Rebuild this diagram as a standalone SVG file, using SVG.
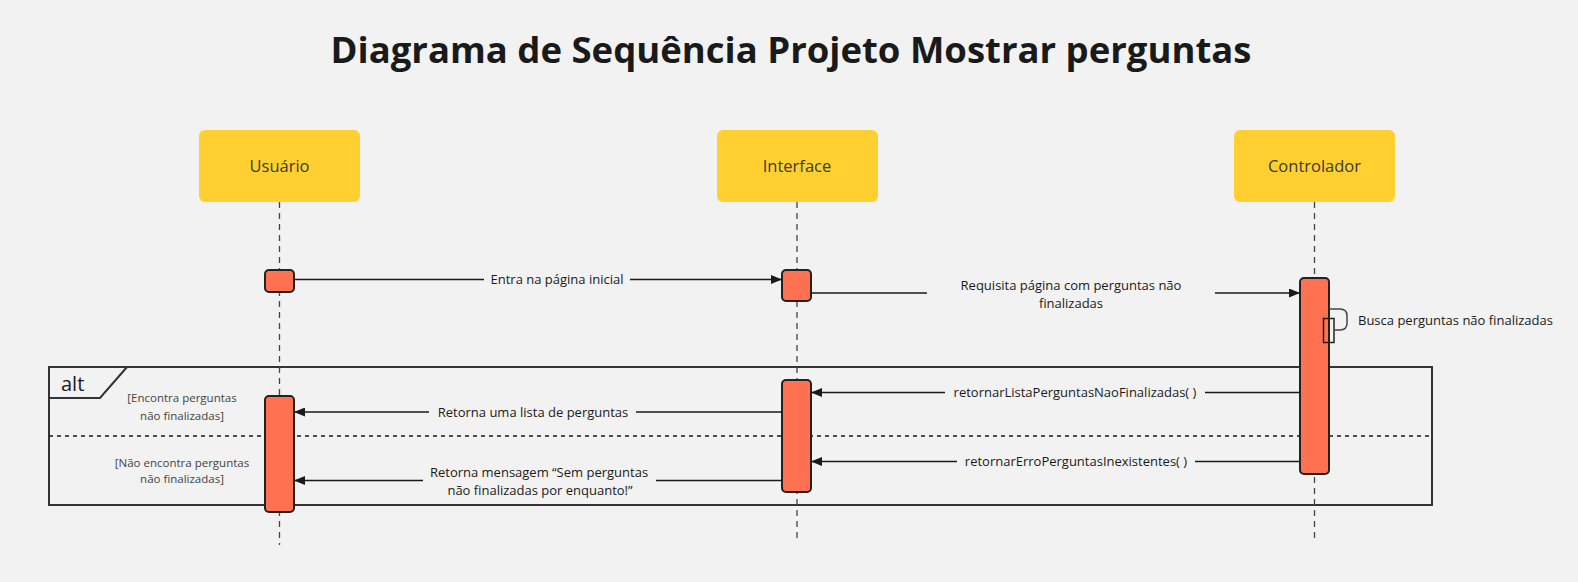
<svg xmlns="http://www.w3.org/2000/svg" width="1578" height="582" viewBox="0 0 1578 582">
<defs>
<style>
.bg{fill:#F2F2F2}
.title{font-family:"Open Sans","Noto Sans",sans-serif;font-weight:700;font-size:36.5px;fill:#1a1a1a;text-anchor:middle}
.part rect.box{fill:#FFD02F}
.part text{font-family:"Open Sans","Noto Sans",sans-serif;font-size:16.5px;fill:#3a3a3a;text-anchor:middle}
.life{stroke:#444;stroke-width:1.3;stroke-dasharray:6 5;fill:none}
.part rect.act{fill:#FF7150;stroke:#222;stroke-width:2}
.part rect.self{fill:none;stroke:#222;stroke-width:1.5}
.msg{stroke:#1a1a1a;stroke-width:1.3;fill:none}
.lbl{font-family:"Open Sans","Noto Sans",sans-serif;font-size:13px;fill:#1a1a1a;text-anchor:middle}
.guard{font-family:"Open Sans","Noto Sans",sans-serif;font-size:11.5px;fill:#444;text-anchor:middle}
.frame{fill:none;stroke:#333;stroke-width:2}
.div{stroke:#1a1a1a;stroke-width:1.3;stroke-dasharray:4 4;fill:none}
</style>
<marker id="ah" viewBox="0 0 11 9" refX="11" refY="4.5" markerWidth="11" markerHeight="9" markerUnits="userSpaceOnUse" orient="auto">
<path d="M0,0 L11,4.5 L0,9 Z" fill="#1a1a1a"/>
</marker>
</defs>
<rect class="bg" x="0" y="0" width="1578" height="582"/>
<text class="title" x="791" y="63">Diagrama de Sequência Projeto Mostrar perguntas</text>

<g id="frame-alt">
<rect class="frame" x="49" y="367" width="1383" height="138"/>
<path class="frame" d="M49,398 L100,398 L127,367"/>
<text x="61" y="391" style="font-family:'Open Sans','Noto Sans',sans-serif;font-size:20px;fill:#1a1a1a">alt</text>
<line class="div" x1="49" y1="436" x2="1432" y2="436"/>
<text class="guard" x="182" y="402">[Encontra perguntas</text>
<text class="guard" x="182" y="420">não finalizadas]</text>
<text class="guard" x="182" y="467">[Não encontra perguntas</text>
<text class="guard" x="182" y="483">não finalizadas]</text>
</g>

<g id="usuario" class="part">
<rect class="box" x="199" y="130" width="161" height="72" rx="6"/>
<text x="279.5" y="172">Usuário</text>
<line class="life" x1="279.5" y1="202" x2="279.5" y2="545"/>
<rect class="act" x="265" y="270" width="29" height="22" rx="4"/>
<rect class="act" x="265" y="396" width="29" height="116" rx="4"/>
</g>

<g id="interface" class="part">
<rect class="box" x="717" y="130" width="161" height="72" rx="6"/>
<text x="797" y="172">Interface</text>
<line class="life" x1="797" y1="202" x2="797" y2="541"/>
<rect class="act" x="782" y="270" width="29" height="31" rx="4"/>
<rect class="act" x="782" y="380" width="29" height="112" rx="4"/>
</g>

<g id="controlador" class="part">
<rect class="box" x="1234" y="130" width="161" height="72" rx="6"/>
<text x="1314.5" y="172">Controlador</text>
<line class="life" x1="1314.5" y1="202" x2="1314.5" y2="541"/>
<rect class="act" x="1300" y="278" width="29" height="196" rx="4"/>
<rect class="self" x="1323.5" y="318.5" width="10.5" height="24"/>
</g>

<g id="connectors">
<line class="msg" x1="294" y1="279.5" x2="484" y2="279.5"/>
<line class="msg" x1="630" y1="279.5" x2="782" y2="279.5" marker-end="url(#ah)"/>
<text class="lbl" x="557" y="284">Entra na página inicial</text>

<line class="msg" x1="811" y1="293" x2="927" y2="293"/>
<line class="msg" x1="1215" y1="293" x2="1300" y2="293" marker-end="url(#ah)"/>
<text class="lbl" x="1071" y="289.5">Requisita página com perguntas não</text>
<text class="lbl" x="1071" y="307.5">finalizadas</text>

<path d="M1329,309 L1340,309 Q1347,309 1347,316 L1347,323 Q1347,330 1340,330 L1334,330" fill="none" stroke="#444" stroke-width="1.5"/>
<text class="lbl" x="1358" y="325" style="text-anchor:start">Busca perguntas não finalizadas</text>

<line class="msg" x1="1300" y1="392.5" x2="1205" y2="392.5"/>
<line class="msg" x1="945" y1="392.5" x2="811" y2="392.5" marker-end="url(#ah)"/>
<text class="lbl" x="1075" y="397">retornarListaPerguntasNaoFinalizadas( )</text>

<line class="msg" x1="782" y1="412" x2="636" y2="412"/>
<line class="msg" x1="429" y1="412" x2="294" y2="412" marker-end="url(#ah)"/>
<text class="lbl" x="533" y="416.5">Retorna uma lista de perguntas</text>

<line class="msg" x1="1300" y1="461.5" x2="1195" y2="461.5"/>
<line class="msg" x1="957" y1="461.5" x2="811" y2="461.5" marker-end="url(#ah)"/>
<text class="lbl" x="1076" y="466">retornarErroPerguntasInexistentes( )</text>

<line class="msg" x1="782" y1="480.5" x2="656" y2="480.5"/>
<line class="msg" x1="423" y1="480.5" x2="294" y2="480.5" marker-end="url(#ah)"/>
<text class="lbl" x="539" y="476.5">Retorna mensagem “Sem perguntas</text>
<text class="lbl" x="540" y="495">não finalizadas por enquanto!”</text>
</g>
</svg>
